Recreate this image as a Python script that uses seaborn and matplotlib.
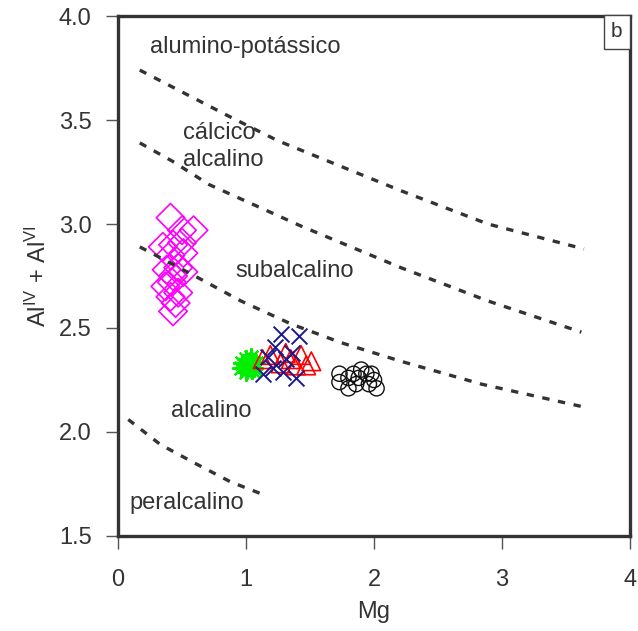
import numpy as np
import pandas as pd
import matplotlib
matplotlib.use("Agg")
import matplotlib.pyplot as plt
import seaborn as sns

# --- boundary curves (Mg, AlIV + AlVI) ---
b1_mg = [0.17, 0.86, 1.25, 2.21, 2.89, 3.64]
b1_al = [3.74, 3.52, 3.40, 3.16, 3.00, 2.88]

b2_mg = [0.17, 0.43, 0.71, 1.43, 2.21, 2.89, 3.62]
b2_al = [3.39, 3.30, 3.19, 2.99, 2.79, 2.63, 2.48]

b3_mg = [0.17, 0.57, 0.96, 1.35, 1.74, 2.21, 2.84, 3.64]
b3_al = [2.89, 2.76, 2.63, 2.52, 2.43, 2.34, 2.23, 2.12]

b4_mg = [0.08, 0.33, 0.60, 0.88, 1.13]
b4_al = [2.06, 1.94, 1.85, 1.76, 1.70]

# --- biotite analyses ---
dia_mg = [0.41, 0.59, 0.50, 0.35, 0.43, 0.50, 0.51, 0.41, 0.38, 0.47,
          0.43, 0.51, 0.42, 0.41, 0.47, 0.45, 0.43, 0.37]
dia_al = [3.03, 2.97, 2.97, 2.89, 2.90, 2.91, 2.86, 2.85, 2.78, 2.79,
          2.75, 2.77, 2.72, 2.65, 2.67, 2.62, 2.58, 2.70]

ast_mg = [0.97, 1.00, 1.02, 1.05, 0.96, 1.03, 1.08, 1.00, 1.04, 0.99, 1.06, 1.01]
ast_al = [2.33, 2.35, 2.32, 2.30, 2.31, 2.34, 2.33, 2.29, 2.36, 2.32, 2.31, 2.30]

tri_mg = [1.19, 1.31, 1.43, 1.51, 1.27, 1.39, 1.13, 1.47, 1.35]
tri_al = [2.37, 2.38, 2.37, 2.34, 2.33, 2.32, 2.35, 2.32, 2.35]

x_mg = [1.27, 1.41, 1.23, 1.17, 1.21, 1.36, 1.29, 1.39, 1.13, 1.31]
x_al = [2.47, 2.46, 2.41, 2.36, 2.31, 2.38, 2.29, 2.26, 2.28, 2.35]

cir_mg = [1.73, 1.80, 1.73, 1.84, 1.90, 1.94, 1.88, 1.98, 2.00, 1.96, 2.02, 1.86, 1.80]
cir_al = [2.28, 2.26, 2.24, 2.28, 2.30, 2.28, 2.26, 2.28, 2.25, 2.23, 2.21, 2.23, 2.21]

x_ticks = [0, 1, 2, 3, 4]
y_ticks = [1.5, 2.0, 2.5, 3.0, 3.5, 4.0]

sns.set_style("white")
plt.rcParams["font.family"] = ["Liberation Sans", "DejaVu Sans"]
plt.rcParams["mathtext.default"] = "regular"

fig = plt.figure(figsize=(6.38, 6.31), dpi=100)
ax = fig.add_axes([0.185, 0.1506, 0.8025, 0.824])

dark = "#333333"
for mg, al in [(b1_mg, b1_al), (b2_mg, b2_al), (b3_mg, b3_al), (b4_mg, b4_al)]:
    sns.lineplot(x=mg, y=al, ax=ax, sort=False, color=dark, lw=2.4,
                 linestyle=(0, (2.2, 2.6)), estimator=None)

sns.scatterplot(x=dia_mg, y=dia_al, ax=ax, marker="D", s=210,
                facecolor="none", edgecolor="#ff00ff", linewidth=1.2)
sns.scatterplot(x=ast_mg, y=ast_al, ax=ax, marker=(8, 2, 0), s=150,
                color="#00ee00", linewidth=1.6)
sns.scatterplot(x=tri_mg, y=tri_al, ax=ax, marker="^", s=180,
                facecolor="none", edgecolor="#ff0000", linewidth=1.2)
sns.scatterplot(x=x_mg, y=x_al, ax=ax, marker="x", s=130,
                color="#1a1a8c", linewidth=1.4)
sns.scatterplot(x=cir_mg, y=cir_al, ax=ax, marker="o", s=120,
                facecolor="none", edgecolor="#111111", linewidth=1.0)

ax.set_xlim(0, 4)
ax.set_ylim(1.5, 4.0)
ax.set_xticks(x_ticks)
ax.set_xticklabels([str(t) for t in x_ticks])
ax.set_yticks(y_ticks)
ax.set_yticklabels([f"{t:.1f}" for t in y_ticks])
ax.tick_params(axis="both", direction="out", length=9, width=1, color="#555555",
               labelsize=17, labelcolor="#333333", bottom=True, left=True)
ax.tick_params(axis="x", pad=15)
ax.tick_params(axis="y", pad=10)
for sp in ax.spines.values():
    sp.set_visible(True)
    sp.set_color("#333333")
    sp.set_linewidth(2.4)

ax.set_xlabel("Mg", fontsize=17, color="#333333", labelpad=7)
ax.set_ylabel("Al$^{IV}$ + Al$^{VI}$", fontsize=17, color="#333333", labelpad=6)

tc = "#333333"
fs = 17
ax.text(0.25, 3.85, "alumino-potássico", fontsize=fs, color=tc, va="center")
ax.text(0.51, 3.436, "cálcico", fontsize=fs, color=tc, va="center")
ax.text(0.51, 3.306, "alcalino", fontsize=fs, color=tc, va="center")
ax.text(0.92, 2.776, "subalcalino", fontsize=fs, color=tc, va="center")
ax.text(0.41, 2.10, "alcalino", fontsize=fs, color=tc, va="center")
ax.text(0.09, 1.658, "peralcalino", fontsize=fs, color=tc, va="center")

ax.text(0.985, 0.988, "b", transform=ax.transAxes, ha="right", va="top",
        fontsize=15, color=tc,
        bbox=dict(boxstyle="square,pad=0.35", facecolor="white",
                  edgecolor="#444444", linewidth=1.0))

fig.savefig("out.png", dpi=100)
